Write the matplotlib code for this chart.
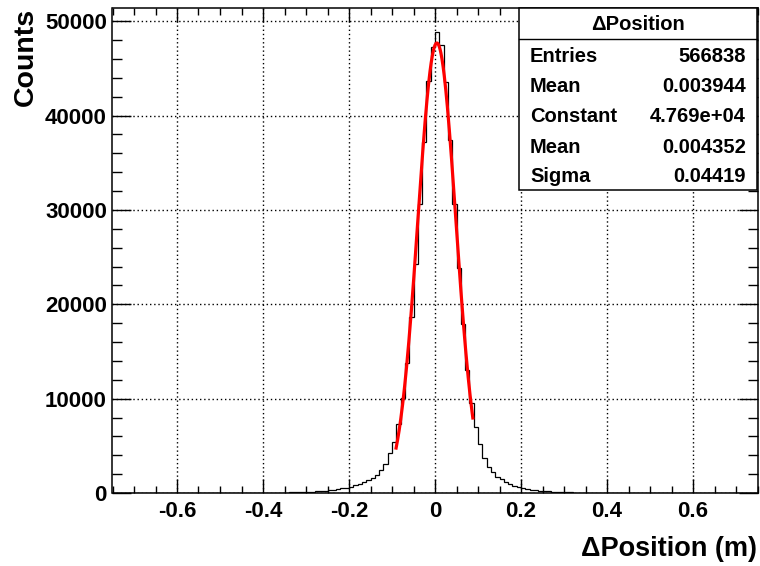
"""
Delta position histogram with gaussian fit, ROOT style
"""

import numpy as np
import matplotlib
matplotlib.use('Agg')
import matplotlib.pyplot as plt
from matplotlib.patches import Rectangle
from matplotlib.ticker import MultipleLocator

plt.rcParams['font.family'] = ['Liberation Sans', 'DejaVu Sans']
plt.rcParams['font.weight'] = 'bold'

# 150 bins of 0.01 from -0.75 to 0.75
bin_lo = -0.75
bin_w = 0.01

left_tail = [1, 1, 1, 1, 2, 2, 2, 2, 3, 3,
             3, 3, 4, 4, 4, 5, 5, 6, 6, 7,
             7, 8, 8, 9, 9, 10, 10, 11, 12, 12,
             13, 14, 15, 17, 18, 20, 24, 29, 35, 42,
             50, 60, 72, 85, 100, 118, 140, 165, 195, 230,
             270, 320, 390, 500, 560, 670, 820, 960, 1130, 1350]
core = [1630, 1950, 2440, 3050, 4210, 5380, 7290, 10050, 13770, 18650,
        24280, 30680, 37190, 43660, 47270, 48900, 47490, 43600, 37400, 30680,
        23850, 17910, 13020, 9520, 6970, 5170, 3680, 2730, 2260, 1730]
right_tail = [1450, 1200, 960, 780, 640, 530, 420, 350, 290, 240,
              200, 165, 135, 110, 90, 75, 62, 50, 41, 34,
              28, 23, 19, 15, 12, 10, 9, 8, 7, 6,
              6, 5, 5, 4, 4, 4, 3, 3, 3, 3,
              2, 2, 2, 2, 2, 2, 1, 1, 1, 1,
              1, 1, 1, 1, 1, 1, 1, 1, 1, 1]

counts = np.array(left_tail + core + right_tail, dtype=float)
edges = bin_lo + bin_w * np.arange(len(counts) + 1)

# fit parameters (from the stats box)
fit_const = 4.769e4
fit_mean = 0.004352
fit_sigma = 0.04419
fit_min = -0.0905
fit_max = 0.088

stat_labels = ['Entries', 'Mean', 'Constant', 'Mean', 'Sigma']
stat_values = ['566838', '0.003944', '4.769e+04', '0.004352', '0.04419']

W, H = 760, 566
fig = plt.figure(figsize=(W / 100, H / 100), dpi=100)
ax = fig.add_axes([112.5 / W, (H - 493) / H, 645 / W, 485 / H])

ax.grid(True, which='major', color='k', linestyle=(0, (1, 2)), linewidth=1.0)
ax.set_axisbelow(True)

ax.stairs(counts, edges, color='k', linewidth=0.9, zorder=3)

xf = np.linspace(fit_min, fit_max, 200)
yf = fit_const * np.exp(-0.5 * ((xf - fit_mean) / fit_sigma) ** 2)
ax.plot(xf, yf, color='red', linewidth=2.3, zorder=4)

ax.set_xlim(-0.75, 0.75)
ax.set_ylim(0, 51400)
ax.xaxis.set_major_locator(MultipleLocator(0.2))
ax.xaxis.set_minor_locator(MultipleLocator(0.05))
ax.yaxis.set_major_locator(MultipleLocator(10000))
ax.yaxis.set_minor_locator(MultipleLocator(2000))
ax.set_xticks(np.arange(-0.6, 0.61, 0.2))
ax.set_xticklabels(['-0.6', '-0.4', '-0.2', '0', '0.2', '0.4', '0.6'])

ax.tick_params(axis='both', which='both', direction='in', top=True, right=True,
               width=1.0, labelsize=16)
ax.tick_params(axis='x', which='major', length=10.4, pad=6)
ax.tick_params(axis='x', which='minor', length=5)
ax.tick_params(axis='y', which='major', length=13.7, pad=4)
ax.tick_params(axis='y', which='minor', length=7.2)
for sp in ax.spines.values():
    sp.set_linewidth(1.1)

fig.text(757 / W, 1 - 549 / H, '\u0394Position (m)', ha='right', va='center',
         fontsize=19.5, fontweight='bold')
fig.text(26 / W, 1 - 8 / H, 'Counts', rotation=90, ha='center', va='top',
         fontsize=20.5, fontweight='bold')

# stats box
bx0, bx1, by0, by1 = 519, 757, 8, 190
fig.patches.append(Rectangle((bx0 / W, 1 - by1 / H), (bx1 - bx0) / W, (by1 - by0) / H,
                             transform=fig.transFigure, facecolor='white',
                             edgecolor='k', linewidth=1.1, zorder=10))
fig.add_artist(plt.Line2D([bx0 / W, bx1 / W], [1 - 39 / H, 1 - 39 / H],
                          transform=fig.transFigure, color='k', linewidth=1.0, zorder=11))
fig.text((bx0 + bx1) / 2 / W, 1 - 25 / H, '\u0394Position', ha='center', va='center',
         fontsize=14.5, fontweight='bold', zorder=12)
for i, (lab, val) in enumerate(zip(stat_labels, stat_values)):
    yy = 1 - (57 + 30 * i) / H
    fig.text(530 / W, yy, lab, ha='left', va='center', fontsize=14.5,
             fontweight='bold', zorder=12)
    fig.text(746 / W, yy, val, ha='right', va='center', fontsize=14.5,
             fontweight='bold', zorder=12)

fig.savefig('out.png', dpi=100)
